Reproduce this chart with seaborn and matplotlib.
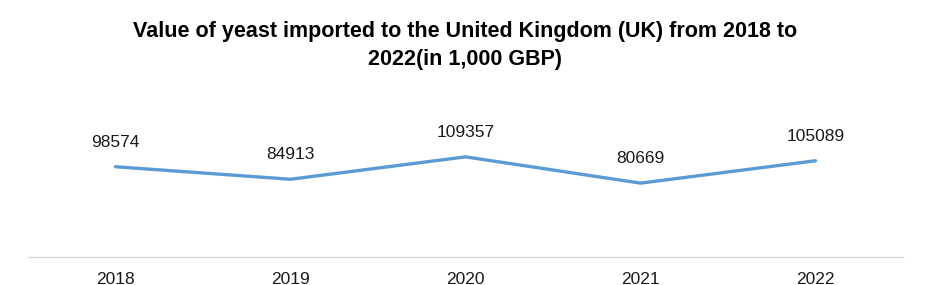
import matplotlib
matplotlib.use("Agg")
import matplotlib.pyplot as plt
import seaborn as sns
import pandas as pd

years = ["2018", "2019", "2020", "2021", "2022"]
values = [98574, 84913, 109357, 80669, 105089]

sns.set_theme(style="white")
plt.rcParams['font.family'] = ['Liberation Sans', 'DejaVu Sans']

W, H = 931, 285
fig = plt.figure(figsize=(W / 100, H / 100), dpi=100)
ax = fig.add_axes([28 / W, 1 - 257 / H, 875 / W, 152 / H])

df = pd.DataFrame({"year": years, "value": values})
sns.lineplot(data=df, x="year", y="value", ax=ax, color="#5B9BD5",
             linewidth=2.4, sort=False)

ax.set_xlim(-0.5, len(years) - 0.5)
ax.set_ylim(0, 166000)
for i, v in enumerate(values):
    ax.annotate(f"{v}", (i, v), xytext=(0, 17.5), textcoords="offset points",
                ha="center", va="center", fontsize=12.5, color="#1a1a1a")

ax.set_xlabel("")
ax.set_ylabel("")
ax.set_yticks([])
ax.tick_params(axis="x", length=0, pad=10.5, labelsize=12.5, labelcolor="#1a1a1a")
for s in ["top", "left", "right"]:
    ax.spines[s].set_visible(False)
ax.spines["bottom"].set_color("#d9d9d9")
ax.spines["bottom"].set_linewidth(1)

fig.text(465 / W, 1 - 32 / H, "Value of yeast imported to the United Kingdom (UK) from 2018 to",
         ha="center", va="center", fontsize=15.5, fontweight="bold", color="#000000")
fig.text(465 / W, 1 - 60 / H, "2022(in 1,000 GBP)",
         ha="center", va="center", fontsize=15.5, fontweight="bold", color="#000000")

fig.savefig("out.png", dpi=100, facecolor="white")
